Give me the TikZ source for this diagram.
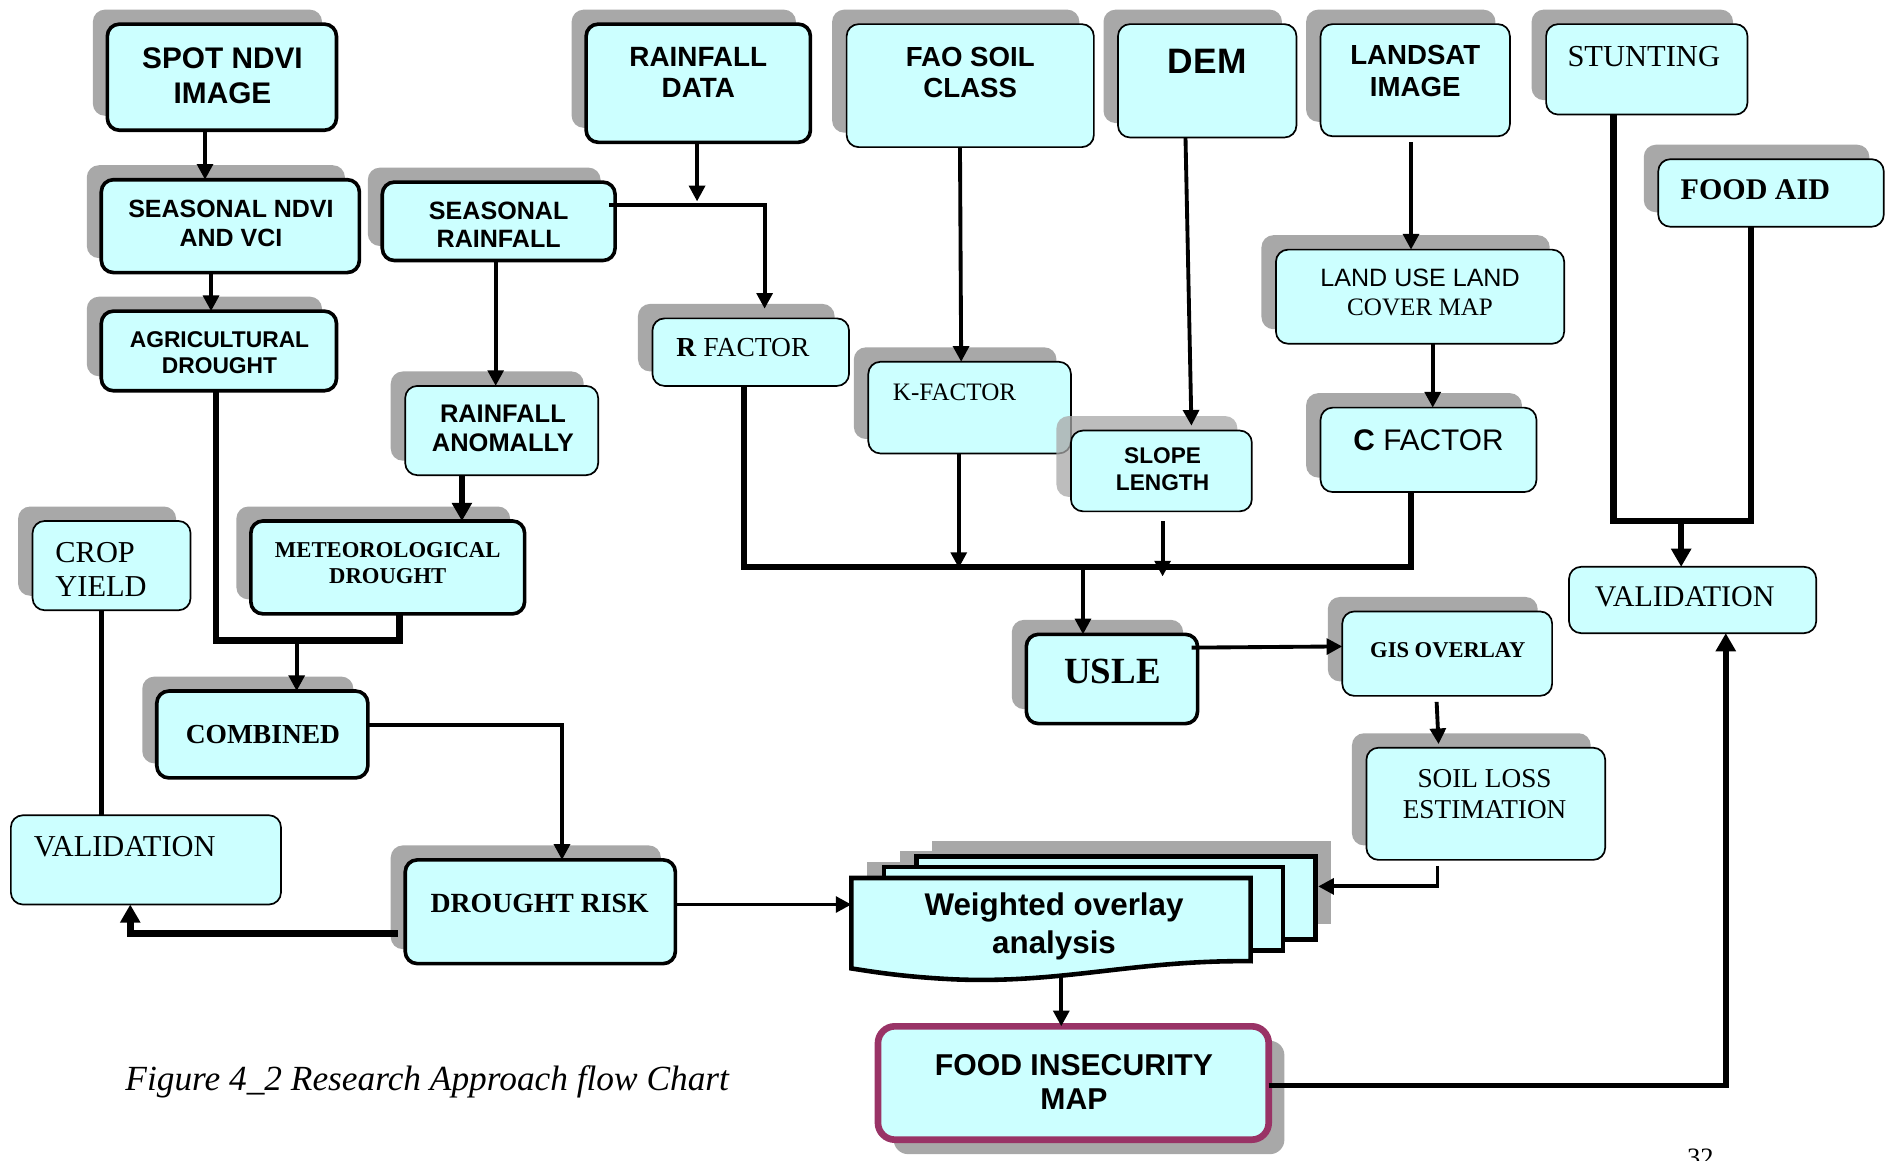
\documentclass[tikz,border=0pt]{standalone}
\usepackage{fontspec}
\setmainfont{Liberation Serif}
\newfontfamily\arialf{Liberation Sans}
\usetikzlibrary{arrows.meta,calc}
\definecolor{boxfill}{HTML}{CCFFFF}
\definecolor{shad}{HTML}{A8A8A8}
\definecolor{magb}{HTML}{993366}
\tikzset{
  box/.style={draw=black,fill=boxfill,rounded corners=10pt,inner sep=0pt,outer sep=0pt},
  thk/.style={line width=3pt},
  thn/.style={line width=1.4pt},
  lbl/.style={inner sep=0pt,outer sep=0pt,align=center,text=black},
  sb/.style 2 args={font=\arialf\bfseries\fontsize{#1}{#2}\selectfont},
  sr/.style 2 args={font=\arialf\fontsize{#1}{#2}\selectfont},
  tr/.style 2 args={font=\rmfamily\fontsize{#1}{#2}\selectfont},
  tb/.style 2 args={font=\rmfamily\bfseries\fontsize{#1}{#2}\selectfont},
  ftri/.tip={Triangle[length=13pt,width=13pt]},
  btri/.tip={Triangle[length=15pt,width=16pt]},
  conn/.style={line width=3.2pt,-ftri},
  heavy/.style={line width=5.5pt,line join=miter},
  docline/.style={draw=black,fill=boxfill,line width=3.8pt,line join=miter},
}
\newcommand\mkbox[7]{%
  \fill[shad,rounded corners=10pt,#7] ({#2-12},{#3-12}) rectangle ({#4-12},{#5-12});
  \node[box,#6,minimum width={(#4-#2)*1pt},minimum height={(#5-#3)*1pt}] (#1) at ({(#2+#4)/2},{(#3+#5)/2}) {};
}
\begin{document}
\begin{tikzpicture}[x=1pt,y=-1pt]
\useasboundingbox (0,0) rectangle (1568,962);
\fill[white] (0,0) rectangle (1568,962);

% ---------- boxes ----------
\mkbox{spot}{89}{20}{279}{108}{thk}{}
\mkbox{sndvi}{84}{149}{298}{226}{thk}{}
\mkbox{agri}{84}{258}{279}{324}{thk}{}
\mkbox{srain}{317}{151}{510}{216}{thk}{}
\mkbox{rdata}{486}{20}{672}{118}{thk}{}
\mkbox{fao}{702}{20}{907}{122}{thn}{}
\mkbox{dem}{927}{20}{1075}{114}{thn}{}
\mkbox{landsat}{1095}{20}{1252}{113}{thn}{}
\mkbox{stunt}{1282}{20}{1449}{95}{thn}{}
\mkbox{foodaid}{1375}{132}{1562}{188}{thn}{}
\mkbox{lulc}{1058}{207}{1297}{285}{thn}{}
\mkbox{cfac}{1095}{338}{1274}{408}{thn}{}
\mkbox{rfac}{541}{264}{704}{320}{thn}{}
\mkbox{kfac}{720}{300}{888}{376}{thn}{}
\mkbox{slope}{888}{357}{1038}{424}{thn}{fill opacity=0.75}
\mkbox{ranom}{336}{320}{496}{394}{thn}{}
\mkbox{met}{208}{432}{435}{509}{thk}{}
\mkbox{crop}{27}{432}{158}{506}{thn}{}
\mkbox{comb}{130}{573}{305}{645}{thk}{}
\node[box,thn,minimum width=224pt,minimum height=74pt] (valL) at (121,713) {};
\mkbox{drisk}{336}{713}{560}{799}{thk}{}
\mkbox{usle}{851}{526}{993}{600}{thk}{}
\mkbox{gis}{1113}{507}{1287}{577}{thn}{}
\mkbox{soil}{1133}{620}{1331}{713}{thn}{}
\node[box,thn,minimum width=205pt,minimum height=55pt] (valR) at (1403.5,497.5) {};

% food insecurity map (shadow bottom-right)
\fill[shad,rounded corners=12pt] (741,863) rectangle (1065,957);
\node[box,draw=magb,line width=5.5pt,rounded corners=14pt,minimum width=324pt,minimum height=94pt] (fim) at (890,898) {};

% weighted overlay multi-document
\fill[shad] (773,697) rectangle (1104,766);
\fill[shad] (746,706) rectangle (1077,775);
\fill[shad] (719,715) rectangle (1050,784);
\path[docline] (760,710) rectangle (1091,779);
\path[docline] (733,719) rectangle (1064,788);
\path[docline] (706,728) -- (1037,728) -- (1037,797)
   .. controls (940,796) and (880,816) .. (790,812)
   .. controls (750,810) and (725,806) .. (706,803) -- cycle;
\node[inner sep=0pt,outer sep=0pt,minimum width=331pt,minimum height=69pt] (wovdoc) at (871.5,762.5) {};
\coordinate (w3e) at (1093,735);
\coordinate (wovb) at (880,808);

% ---------- texts ----------
\node[lbl,sb={24.7}{29}] (spot-t) at (184.5,62.5) {SPOT NDVI\\IMAGE};
\node[lbl,sb={20.7}{24}] (sndvi-t) at (191.5,185) {SEASONAL NDVI\\AND VCI};
\node[lbl,sb={18.9}{21}] (agri-t) at (182,292.5) {AGRICULTURAL\\DROUGHT};
\node[lbl,sb={20.8}{23}] (srain-t) at (413.5,186.5) {SEASONAL\\RAINFALL};
\node[lbl,sb={23.1}{26}] (rdata-t) at (579,60) {RAINFALL\\DATA};
\node[lbl,sb={22.9}{26}] (fao-t) at (804.5,60) {FAO SOIL\\CLASS};
\node[lbl,sb={29.3}{32}] (dem-t) at (1001,51) {DEM};
\node[lbl,sb={22.9}{26}] (landsat-t) at (1173.5,59) {LANDSAT\\IMAGE};
\node[lbl,tr={25.3}{30}] (stunt-t) at (1363,47) {STUNTING};
\node[lbl,tb={24.9}{30}] (foodaid-t) at (1455.5,157) {FOOD AID};
\node[lbl,sr={20.8}{24}] (lulc-t) at (1177.5,242.5) {LAND USE LAND\\{\rmfamily COVER MAP}};
\node[lbl,sr={24.7}{29}] (cfac-t) at (1184.5,365) {\textbf{C} FACTOR};
\node[lbl,tr={22.8}{27}] (rfac-t) at (616,288) {\textbf{R} FACTOR};
\node[lbl,tr={20.8}{25}] (kfac-t) at (791.5,325) {K-FACTOR};
\node[lbl,sb={18.8}{22}] (slope-t) at (964,389) {SLOPE\\LENGTH};
\node[lbl,sb={21.1}{24}] (ranom-t) at (417,355) {RAINFALL\\ANOMALLY};
\node[lbl,tb={18.8}{22}] (met-t) at (321.5,467) {METEOROLOGICAL\\DROUGHT};
\node[lbl,tr={25.2}{28},align=left,anchor=west] (crop-t) at (46,472) {CROP\\YIELD};
\node[lbl,tb={22.8}{27}] (comb-t) at (218,609) {COMBINED};
\node[lbl,tr={25.2}{29},anchor=west] (valL-t) at (28,702) {VALIDATION};
\node[lbl,tb={23}{27}] (drisk-t) at (447.5,749) {DROUGHT RISK};
\node[lbl,tb={30.6}{34}] (usle-t) at (922.5,557) {USLE};
\node[lbl,tb={18.7}{22}] (gis-t) at (1200.5,539) {GIS OVERLAY};
\node[lbl,tr={22.6}{25}] (soil-t) at (1231,658.5) {SOIL LOSS\\ESTIMATION};
\node[lbl,tr={24.9}{29}] (valR-t) at (1397,495) {VALIDATION};
\node[lbl,sb={26}{31}] (wov-t) at (874,768) {Weighted overlay\\analysis};
\node[lbl,sb={25}{28}] (fim-t) at (890.5,897) {FOOD INSECURITY\\MAP};
\node[lbl,font=\rmfamily\itshape\fontsize{29.3}{32}\selectfont,anchor=west] (cap) at (104,897) {Figure 4\_2 Research Approach flow Chart};
\node[lbl,tr={22}{26},anchor=north] (pg) at (1410,953) {32};

% ---------- junction coordinates ----------
\coordinate (j1) at (246,531);
\coordinate (j2) at (578,167);
\coordinate (j3) at (795,471);
\coordinate (j4) at (964,478);
\coordinate (j5) at (898,470);
\coordinate (j6) at (1394,432);

% ---------- connectors ----------
\draw[conn] (spot.south -| 170,0) -- (sndvi.north -| 170,0);
\draw[conn] (sndvi.south -| 175,0) -- (agri.north -| 175,0);
\draw[heavy] (agri.south -| 179,0) -- (179,531) -- (331,531) -- (met.south -| 331,0);
\draw[conn] (j1) -- (comb.north -| j1);
\draw[conn] (rdata.south -| j2) -- (j2);
\draw[conn,line join=miter,shorten >=8pt] ([xshift=-5pt]srain.east |- 0,170) -- (634,170) -- (rfac.north -| 634,0);
\draw[conn] (srain.south -| 411,0) -- (ranom.north -| 411,0);
\draw[line width=4.8pt,-btri] (ranom.south -| 383,0) -- (met.north -| 383,0);
\draw[conn,line join=miter] (comb.east |- 0,601) -- (466,601) -- (drisk.north -| 466,0);
\draw[heavy,line width=6pt,-btri] ([xshift=-6pt]drisk.west |- 0,774) -- (108,774) -- (valL.south -| 108,0);
\draw[line width=4.2pt] (crop.south -| 84,0) -- (valL.north -| 84,0);
\draw[conn] (drisk.east |- 0,750) -- (wovdoc.west |- 0,750);
\draw[conn] (fao.south -| 796,0) -- (kfac.north -| 797,0);
\draw[conn,shorten >=4pt] (dem.south -| 983,0) -- (slope.north -| 988,0);
\draw[conn] ([yshift=-5pt]landsat.south -| 1170,0) -- (lulc.north -| 1170,0);
\draw[conn] (lulc.south -| 1188,0) -- (cfac.north -| 1188,0);
\draw[heavy] (rfac.south -| 617,0) -- (617,470) -- (1170,470) -- (cfac.south -| 1170,0);
\draw[conn] (kfac.south -| j3) -- (j3);
\draw[conn,shorten <=8pt] (slope.south -| j4) -- (j4);
\draw[conn] (j5) -- (usle.north -| j5);
\draw[conn] ([xshift=-5pt]usle.east |- 0,537) -- (gis.west |- 0,536);
\draw[conn,shorten <=5pt,shorten >=3pt] (gis.south -| 1191,0) -- (soil.north -| 1193,0);
\draw[conn,line join=miter,shorten <=5pt] (soil.south -| 1192,0) -- (1192,735) -- (w3e);
\draw[conn] (wovb) -- (fim.north -| wovb);
\draw[line width=4.5pt,-btri,line join=miter] (fim.east |- 0,900) -- (1431,900) -- (valR.south -| 1431,0);
\draw[heavy] (stunt.south -| 1338,0) -- (1338,432) -- (1452,432) -- (foodaid.south -| 1452,0);
\draw[line width=4.8pt,-btri] (j6) -- (valR.north -| j6);
\end{tikzpicture}
\end{document}
